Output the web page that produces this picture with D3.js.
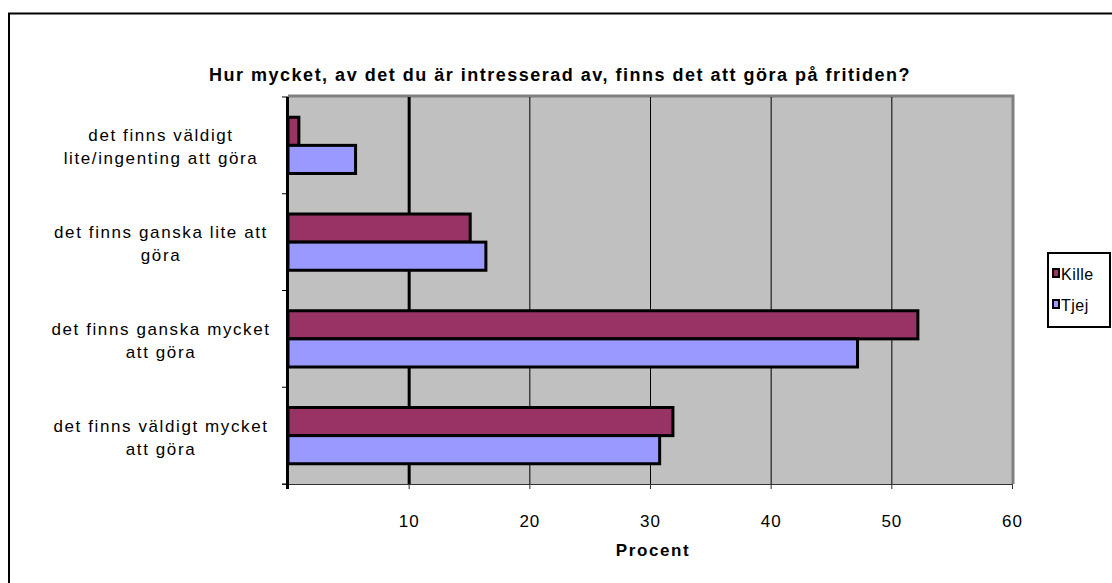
<!DOCTYPE html>
<html>
<head>
<meta charset="utf-8">
<script src="https://cdn.jsdelivr.net/npm/d3@7/dist/d3.min.js"></script>
<style>
  body { margin: 0; background: #fff; }
  text { font-family: "Liberation Sans", Arial, sans-serif; }
</style>
</head>
<body>
<script>
const w = 1112;
const h = 583;

const categories = [
  ["det finns väldigt", "lite/ingenting att göra"],
  ["det finns ganska lite att", "göra"],
  ["det finns ganska mycket", "att göra"],
  ["det finns väldigt mycket", "att göra"]
];
const seriesNames = ["Kille", "Tjej"];
const kille = [0.9, 15.1, 52.2, 31.9];
const tjej = [5.6, 16.4, 47.2, 30.8];
const xTicks = [10, 20, 30, 40, 50, 60];
const colors = {Kille: "#993366", Tjej: "#9999FF"};

const plot = {left: 288, top: 97, right: 1012, bottom: 484};

const svg = d3.select("body")
              .append("svg")
              .attr("width", w)
              .attr("height", h)

// outer chart frame
svg.append("rect")
   .attr("x", 9).attr("y", 13.5)
   .attr("width", w + 20).attr("height", h + 20)
   .attr("fill", "#fff")
   .attr("stroke", "#000")
   .attr("stroke-width", 2)

svg.append("text")
   .text("Hur mycket, av det du är intresserad av, finns det att göra på fritiden?")
   .attr("x", 560)
   .attr("y", 81)
   .attr("text-anchor", "middle")
   .attr("font-size", "18px")
   .attr("font-weight", "bold")
   .attr("letter-spacing", "1.5px")

const xScale = d3.scaleLinear()
                 .domain([0, 60])
                 .range([plot.left, plot.right]);

const yScale = d3.scaleBand()
                 .domain(d3.range(categories.length))
                 .range([plot.top, plot.bottom]);

const inner = d3.scaleBand()
                .domain(seriesNames)
                .range([0, yScale.bandwidth()])
                .paddingOuter(0.72);

// plot area
svg.append("rect")
   .attr("x", plot.left).attr("y", plot.top)
   .attr("width", plot.right - plot.left)
   .attr("height", plot.bottom - plot.top)
   .attr("fill", "#C0C0C0")

svg.append("path")
   .attr("d", `M${plot.left},${plot.top - 1}H${plot.right + 1}V${plot.bottom}`)
   .attr("fill", "none")
   .attr("stroke", "#808080")
   .attr("stroke-width", 3)

// gridlines
const grid = svg.append("g")
   .attr("transform", "translate(0," + plot.bottom + ")")
   .call(d3.axisBottom(xScale).tickValues(xTicks.slice(0, -1)).tickSize(-(plot.bottom - plot.top)).tickFormat(""))
grid.select(".domain").remove()
grid.selectAll(".tick line")
    .attr("stroke", "#000")
    .attr("stroke-width", d => d === 10 ? 3 : 1)

// bars
const rows = categories.map((c, i) => ({i: i, values: [{k: "Kille", v: kille[i]}, {k: "Tjej", v: tjej[i]}]}));

svg.selectAll("g.row")
   .data(rows)
   .enter()
   .append("g")
   .attr("class", "row")
   .attr("transform", d => "translate(0," + yScale(d.i) + ")")
   .selectAll("rect")
   .data(d => d.values)
   .enter()
   .append("rect")
   .attr("x", xScale(0))
   .attr("y", d => inner(d.k))
   .attr("width", d => xScale(d.v) - xScale(0))
   .attr("height", inner.bandwidth())
   .attr("fill", d => colors[d.k])
   .attr("stroke", "#000")
   .attr("stroke-width", 3)

// x axis
const xAxis = svg.append("g")
   .attr("transform", "translate(0," + plot.bottom + ")")
   .call(d3.axisBottom(xScale).tickValues(xTicks).tickSize(5).tickSizeOuter(0).tickPadding(26))
xAxis.select(".domain").attr("stroke", "#333").attr("d", `M${plot.left - 6},0.5H${plot.right}`)
xAxis.selectAll(".tick line").attr("stroke", "#333")
xAxis.selectAll(".tick text")
     .attr("font-size", "17px")
     .attr("fill", "#000")
     .attr("letter-spacing", "1px")
     .style("font-family", "'Liberation Sans', Arial, sans-serif")

svg.append("text")
   .text("Procent")
   .attr("x", 653)
   .attr("y", 556)
   .attr("text-anchor", "middle")
   .attr("font-size", "17px")
   .attr("font-weight", "bold")
   .attr("letter-spacing", "1.6px")

// category axis
const yAxis = svg.append("g")
   .attr("transform", "translate(" + plot.left + ",0)")
   .call(d3.axisLeft(yScale).tickSize(0).tickFormat(""))
yAxis.select(".domain").remove()
yAxis.append("line")
     .attr("x1", -0.5).attr("x2", -0.5)
     .attr("y1", plot.top).attr("y2", plot.bottom + 5)
     .attr("stroke", "#000").attr("stroke-width", 3)
yAxis.selectAll("line.cat")
     .data(d3.range(categories.length + 1))
     .enter()
     .append("line")
     .attr("class", "cat")
     .attr("x1", -6).attr("x2", 0)
     .attr("y1", d => plot.top + d * yScale.step())
     .attr("y2", d => plot.top + d * yScale.step())
     .attr("stroke", "#000")

const labels = svg.selectAll("text.cat")
   .data(categories)
   .enter()
   .append("text")
   .attr("class", "cat")
   .attr("text-anchor", "middle")
   .attr("font-size", "17px")
   .attr("letter-spacing", "1.6px")
   .attr("y", (d, i) => yScale(i) + yScale.bandwidth() / 2 - 4)
labels.selectAll("tspan")
   .data(d => d)
   .enter()
   .append("tspan")
   .attr("x", 161)
   .attr("dy", (d, i) => i === 0 ? 0 : 23)
   .text(d => d)

// legend
svg.append("rect")
   .attr("x", 1048).attr("y", 253)
   .attr("width", 62).attr("height", 74)
   .attr("fill", "#fff")
   .attr("stroke", "#000")
   .attr("stroke-width", 2)

seriesNames.forEach((s, i) => {
  svg.append("rect")
     .attr("x", 1053).attr("y", 269 + i * 31)
     .attr("width", 6).attr("height", 8)
     .attr("fill", colors[s])
     .attr("stroke", "#000")
     .attr("stroke-width", 2)
  svg.append("text")
     .text(s)
     .attr("x", 1061)
     .attr("y", 280 + i * 31)
     .attr("font-size", "16px")
     .attr("letter-spacing", "0.5px")
})
</script>
</body>
</html>
